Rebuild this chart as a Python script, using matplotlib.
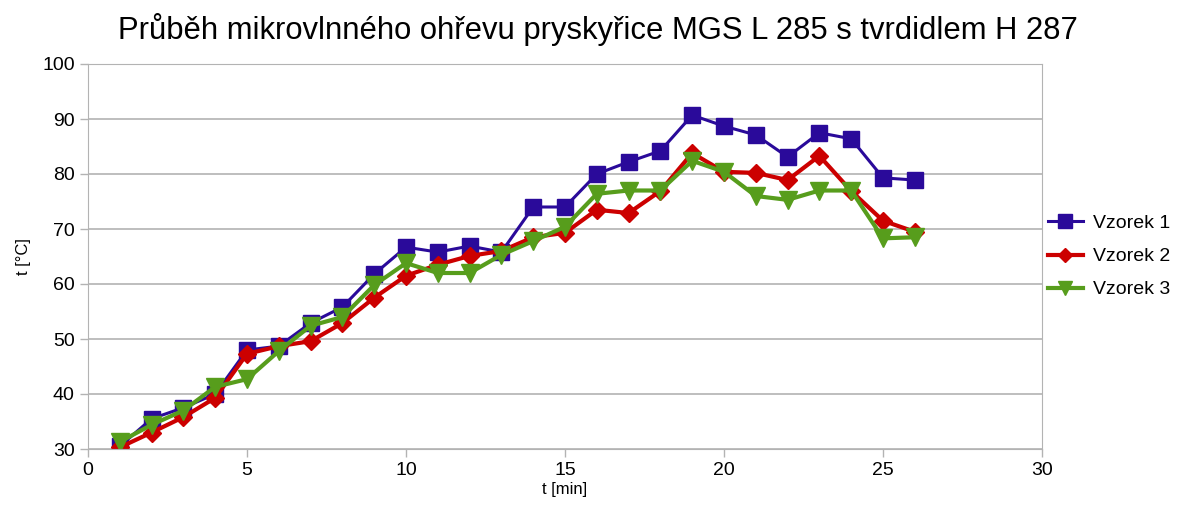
import numpy as np
import matplotlib
matplotlib.use("Agg")
import matplotlib.pyplot as plt

plt.rcParams['font.family'] = ['Liberation Sans', 'DejaVu Sans']

TITLE = "Průběh mikrovlnného ohřevu pryskyřice MGS L 285 s tvrdidlem H 287"

minutes = list(range(1, 27))

vzorek1 = [30.5, 35.5, 37.5, 40.0, 48.0, 48.7, 52.9, 55.8, 61.8, 66.7,
           65.8, 66.9, 65.8, 74.0, 74.0, 80.0, 82.2, 84.2, 90.7, 88.7,
           87.1, 83.1, 87.5, 86.4, 79.3, 78.9]
vzorek2 = [30.3, 33.0, 35.8, 39.3, 47.3, 48.7, 49.6, 52.9, 57.5, 61.5,
           63.5, 65.1, 66.0, 68.5, 69.3, 73.5, 72.9, 76.9, 83.8, 80.4,
           80.2, 78.9, 83.3, 76.9, 71.5, 69.5]
vzorek3 = [31.3, 34.4, 37.0, 41.3, 42.7, 47.8, 52.4, 54.0, 59.8, 63.8,
           62.0, 62.0, 65.3, 67.8, 70.4, 76.4, 77.0, 77.0, 82.4, 80.4,
           76.0, 75.3, 77.0, 77.0, 68.3, 68.5]

series = [
    ("Vzorek 1", vzorek1, "#2a0a9a", "s", 12, 2.2),
    ("Vzorek 2", vzorek2, "#cc0000", "D", 9.5, 3.0),
    ("Vzorek 3", vzorek3, "#579d1c", "v", 12.5, 3.0),
]

fig = plt.figure(figsize=(11.96, 5.19), dpi=100)
ax = fig.add_axes([88 / 1196, 1 - 449 / 519, (1042 - 88) / 1196, (449 - 64) / 519])

for name, vals, color, marker, ms, lw in series:
    ax.plot(minutes, vals, color=color, marker=marker, markersize=ms, linewidth=lw, label=name)

ax.set_xlim(0, 30)
ax.set_ylim(30, 100)
ax.set_xticks(np.arange(0, 31, 5))
ax.set_yticks(np.arange(30, 101, 10))
ax.grid(axis='y', color='#b3b3b3', linewidth=1.2)
ax.set_axisbelow(True)
for sp in ax.spines.values():
    sp.set_color('#b3b3b3')
ax.tick_params(colors='#b3b3b3', labelcolor='black', labelsize=14, length=6, width=1)

ax.set_xlabel("t [min]", fontsize=12, labelpad=2)
ax.set_ylabel("t [°C]", fontsize=12, labelpad=8)
fig.suptitle(TITLE, fontsize=22.3, y=0.975)

ax.legend(loc='center left', bbox_to_anchor=(1.0, 0.5), frameon=False, fontsize=14,
          handlelength=1.8, handletextpad=0.5, borderaxespad=0.1, borderpad=0.2,
          labelspacing=0.8, markerscale=0.8)

fig.savefig("out.png", dpi=100)
